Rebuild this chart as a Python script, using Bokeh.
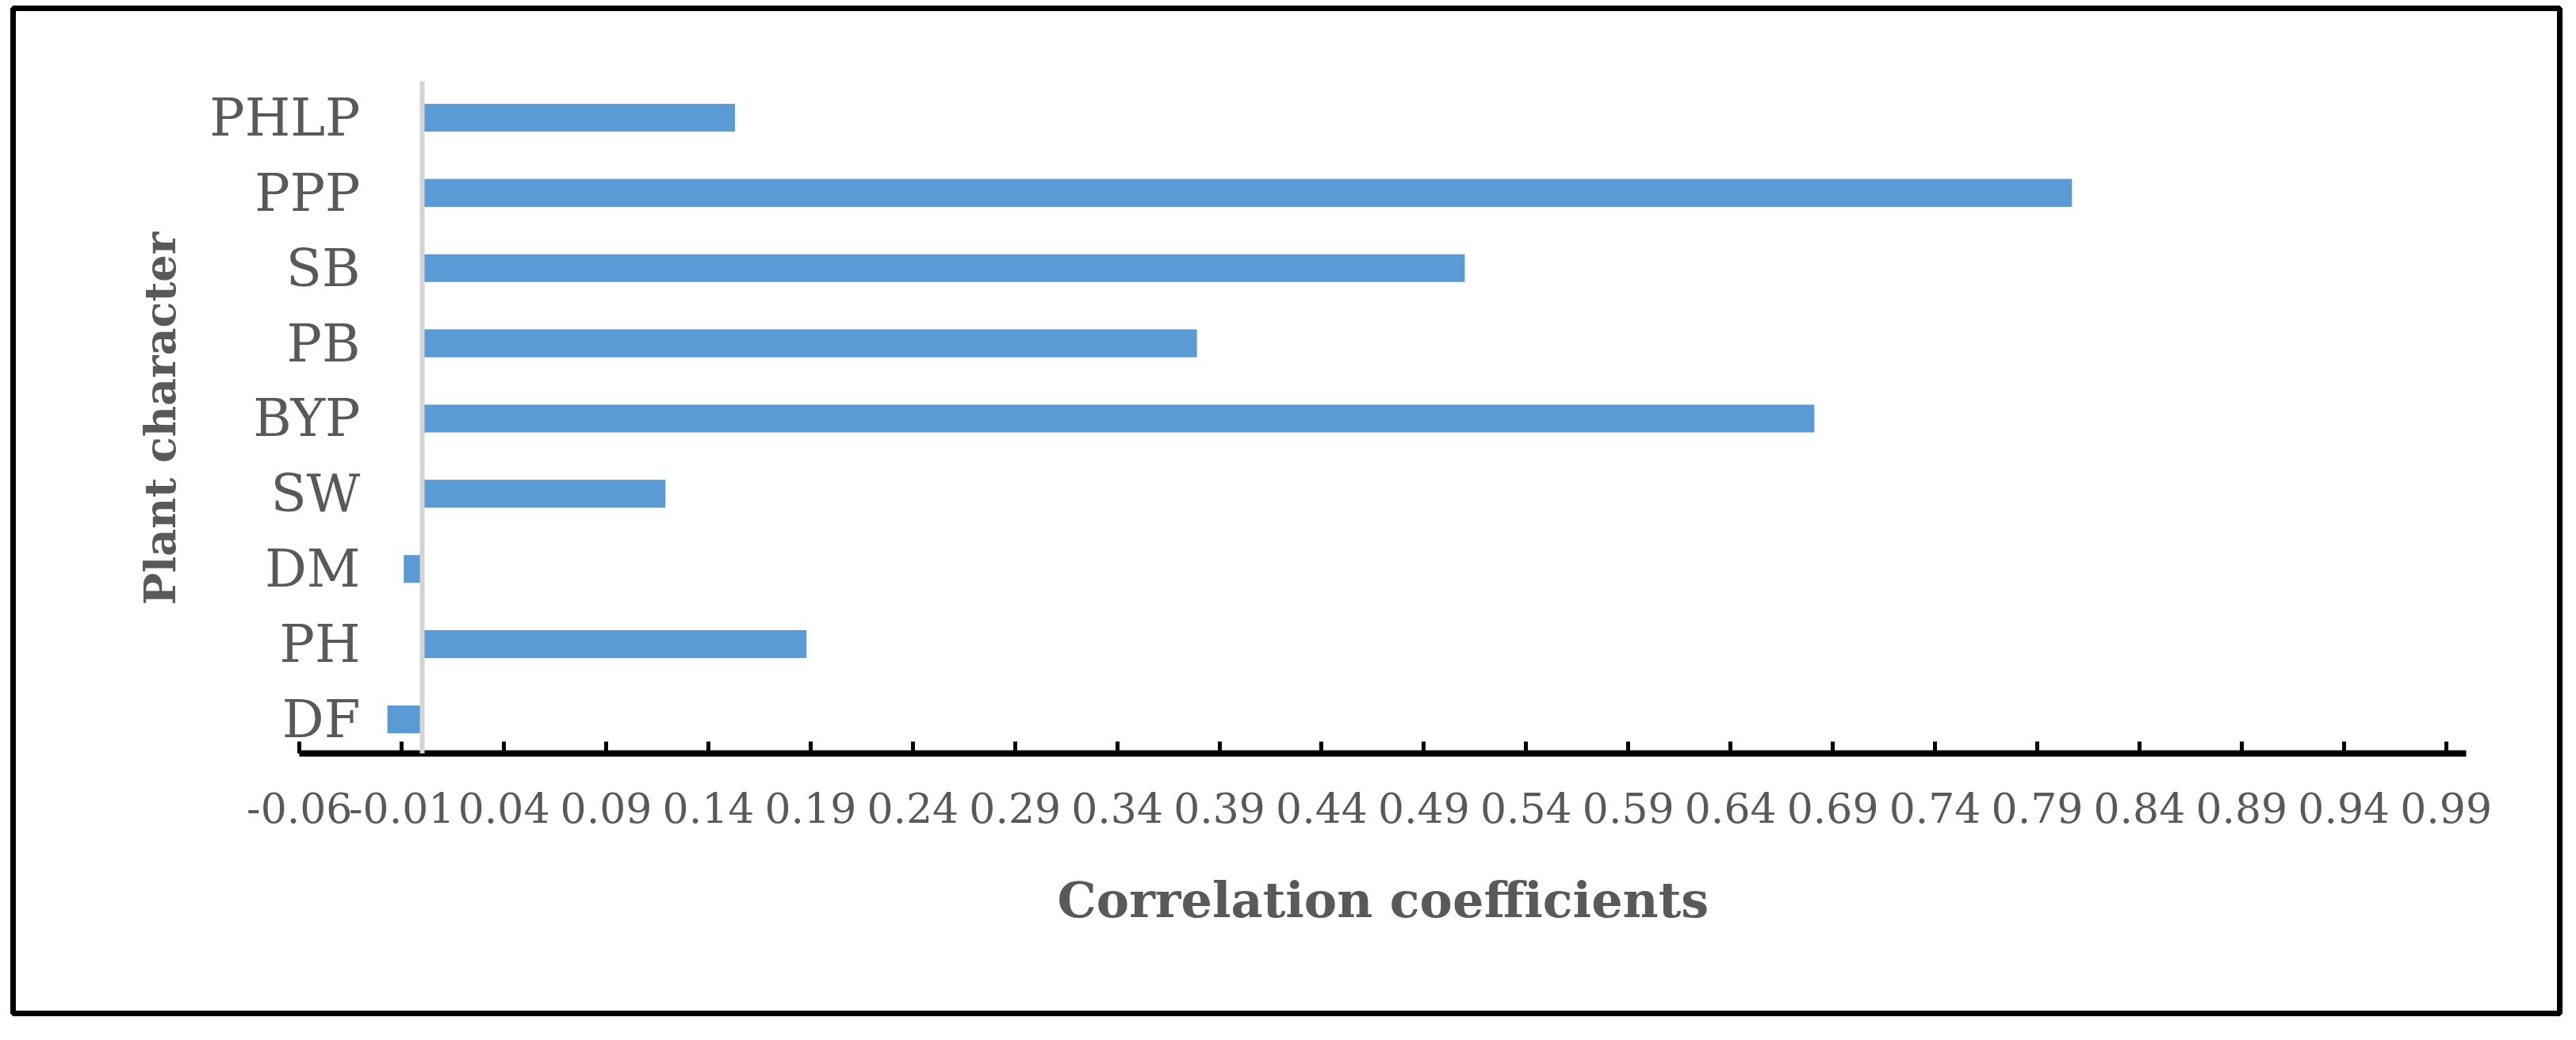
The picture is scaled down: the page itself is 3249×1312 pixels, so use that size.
import math
from bokeh.plotting import figure
from bokeh.models import (ColumnDataSource, Range1d, FixedTicker,
                          PrintfTickFormatter, Label)
from bokeh.embed import file_html
from bokeh.resources import INLINE

# ---- data (top to bottom as in the chart) ----
characters = ["PHLP", "PPP", "SB", "PB", "BYP", "SW", "DM", "PH", "DF"]
coefficients = [0.153, 0.807, 0.510, 0.379, 0.681, 0.119, -0.009, 0.188, -0.017]
x_ticks = [-0.06, -0.01, 0.04, 0.09, 0.14, 0.19, 0.24, 0.29, 0.34, 0.39, 0.44,
           0.49, 0.54, 0.59, 0.64, 0.69, 0.74, 0.79, 0.84, 0.89, 0.94, 0.99]
x_title = "Correlation coefficients"
y_title = "Plant character"

FONT = "DejaVu Serif"
GRAY = "#595959"
BLUE = "#5B9BD5"

n = len(characters)
ypos = [n - 1 - i for i in range(n)]          # category slots, first one on top
source = ColumnDataSource(dict(y=ypos, val=coefficients, name=characters))

X_MIN, X_MAX = x_ticks[0], 1.0                 # extent of the value axis

p = figure(width=3233, height=1296, output_backend="svg", toolbar_location=None,
           x_range=Range1d(-0.2001, 1.0456), y_range=Range1d(-3.9104, 9.4545),
           min_border_left=16, min_border_right=5,
           min_border_top=10, min_border_bottom=18)
p.background_fill_color = "white"
p.border_fill_color = "white"
p.outline_line_color = "black"
p.outline_line_width = 7
p.xgrid.grid_line_color = None
p.ygrid.grid_line_color = None

p.hbar(y="y", right="val", left=0, height=0.37, source=source,
       fill_color=BLUE, line_color=None)

# value axis (bottom of the plot area)
xa = p.xaxis[0]
xa.fixed_location = -0.453
xa.bounds = (X_MIN, X_MAX)
xa.ticker = FixedTicker(ticks=x_ticks)
xa.formatter = PrintfTickFormatter(format="%.2f")
xa.minor_tick_line_color = None
xa.axis_line_color = "black"
xa.axis_line_width = 8
xa.major_tick_line_color = "black"
xa.major_tick_line_width = 5
xa.major_tick_in = 15
xa.major_tick_out = 0
xa.major_label_standoff = 50
xa.major_label_text_font = FONT
xa.major_label_text_font_size = "52px"
xa.major_label_text_color = GRAY

# category axis crossing at zero
ya = p.yaxis[0]
ya.fixed_location = 0
ya.bounds = (-0.453, n - 0.515)
ya.ticker = FixedTicker(ticks=ypos)
ya.major_label_overrides = {k: c for k, c in zip(ypos, characters)}
ya.axis_line_color = "#D4D4D4"
ya.axis_line_width = 6
ya.major_tick_line_color = None
ya.minor_tick_line_color = None
ya.major_tick_in = 0
ya.major_tick_out = 0
ya.major_label_standoff = 78
ya.major_label_text_font = FONT
ya.major_label_text_font_size = "66px"
ya.major_label_text_color = GRAY

# axis titles
p.add_layout(Label(x=(X_MIN + X_MAX) / 2, y=-2.40, text=x_title,
                   text_align="center", text_baseline="middle",
                   text_font=FONT, text_font_size="62px",
                   text_font_style="bold", text_color=GRAY))
p.add_layout(Label(x=-0.128, y=(n - 1) / 2, text=y_title, angle=math.pi / 2,
                   text_align="center", text_baseline="middle",
                   text_font=FONT, text_font_size="54px",
                   text_font_style="bold", text_color=GRAY))

open("out.html", "w").write(file_html(p, INLINE))
